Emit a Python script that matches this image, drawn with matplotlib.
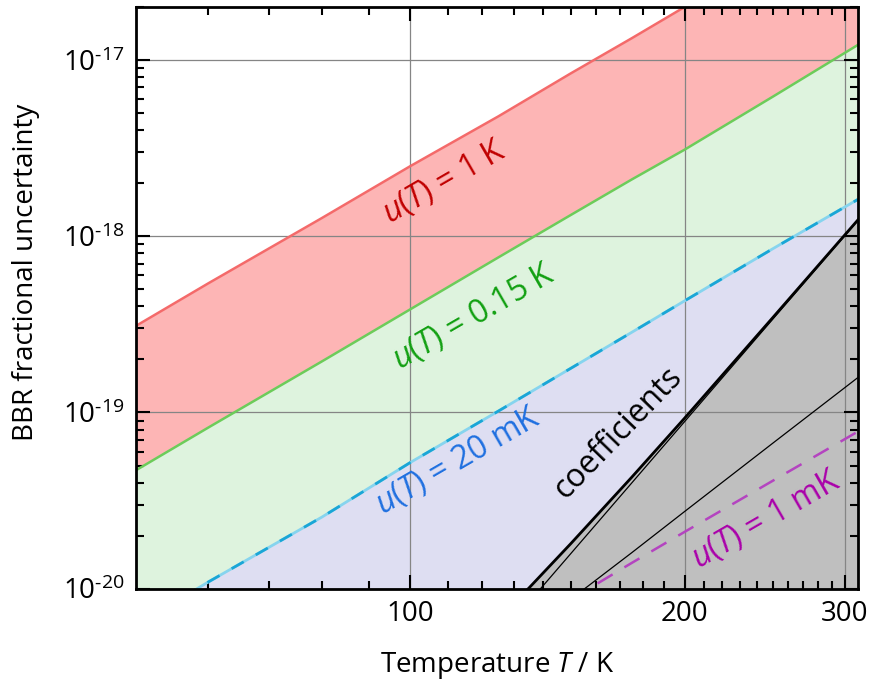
import matplotlib
matplotlib.use("Agg")
import matplotlib.pyplot as plt
from matplotlib.ticker import FixedLocator, NullFormatter, FuncFormatter
import math

FONT = "Open Sans"
plt.rcParams['font.family'] = [FONT, 'DejaVu Sans']
plt.rcParams['mathtext.fontset'] = 'custom'
plt.rcParams['mathtext.rm'] = FONT
plt.rcParams['mathtext.it'] = FONT + ':italic'

# ---- data ----
T_grid = [50, 60, 80, 100, 125, 150, 175, 200, 250, 310]
u_1K = [3.1e-19, 5.4e-19, 1.27e-18, 2.5e-18, 4.8e-18, 8.4e-18, 1.33e-17, 2.0e-17, 3.9e-17, 7.4e-17]
u_015K = [4.7e-20, 8.2e-20, 1.95e-19, 3.85e-19, 7.6e-19, 1.32e-18, 2.1e-18, 3.1e-18, 6.2e-18, 1.22e-17]
u_20mK = [6.2e-21, 1.09e-20, 2.55e-20, 5.2e-20, 1.02e-19, 1.78e-19, 2.85e-19, 4.3e-19, 8.5e-19, 1.62e-18]
T_1mK = [150, 160, 175, 200, 250, 310]
u_1mK = [8.7e-21, 1.06e-20, 1.4e-20, 2.1e-20, 4.1e-20, 7.8e-20]
T_coef = [125, 135, 150, 175, 200, 250, 310]
coef_static = [4.2e-21, 5.7e-21, 8.7e-21, 1.6e-20, 2.74e-20, 6.7e-20, 1.58e-19]
coef_dynamic = [5.3e-21, 8.4e-21, 1.58e-20, 3.98e-20, 8.87e-20, 3.39e-19, 1.23e-18]
coef_total = [6.8e-21, 1.01e-20, 1.80e-20, 4.29e-20, 9.28e-20, 3.46e-19, 1.24e-18]

x_major = [100, 200, 300]
x_minor = [60, 70, 80, 90, 110, 120, 130, 140, 150, 160, 170, 180, 190,
           210, 220, 230, 240, 250, 260, 270, 280, 290]
y_major = [1e-20, 1e-19, 1e-18, 1e-17]
y_minor = [m * 10.0 ** e for e in (-20, -19, -18, -17) for m in range(2, 10) if m * 10.0 ** e <= 2e-17]
XLIM = (50, 310)
YLIM = (1e-20, 2e-17)

fig = plt.figure(figsize=(8.7, 6.89), dpi=100)
ax = fig.add_axes([0.1563, 0.1456, 0.9862 - 0.1563, 0.9898 - 0.1456])
ax.set_xscale('log')
ax.set_yscale('log')
ax.set_xlim(*XLIM)
ax.set_ylim(*YLIM)

low = YLIM[0] / 10
ax.fill_between(T_grid, u_015K, u_1K, color='#fdb5b5', lw=0, zorder=0)
ax.fill_between(T_grid, u_20mK, u_015K, color='#def3de', lw=0, zorder=0)
ax.fill_between(T_grid, low, u_20mK, color='#dedef2', lw=0, zorder=0)
ax.fill_between(T_coef, low, coef_total, color='#bfbfbf', lw=0, zorder=2)

ax.grid(True, which='major', color='#858585', lw=0.9)
ax.set_axisbelow(False)
for gl in ax.get_xgridlines() + ax.get_ygridlines():
    gl.set_zorder(1)

ax.plot(T_grid, u_1K, color='#f46a6a', lw=1.8, zorder=3)
ax.plot(T_grid, u_015K, color='#6ccc5a', lw=1.8, zorder=3)
ax.plot(T_grid, u_20mK, color='#86d4ee', lw=2.0, zorder=3)
ax.plot(T_grid, u_20mK, color='#1aa6d6', lw=2.0, ls=(0, (5, 5)), zorder=3)
ax.plot(T_1mK, u_1mK, color='#b444c0', lw=1.8, ls=(0, (7, 5.5)), zorder=3)
ax.plot(T_coef, coef_static, color='black', lw=0.9, zorder=4)
ax.plot(T_coef, coef_dynamic, color='black', lw=0.9, zorder=4)
ax.plot(T_coef, coef_total, color='black', lw=2.0, zorder=4)

fs_in = 23
ax.text(109.1, 2.02e-18, r'$u$($T$) = 1 K', color='#c00000', fontsize=fs_in,
        rotation=30, ha='center', va='center', rotation_mode='anchor', zorder=5)
ax.text(117.4, 3.45e-19, r'$u$($T$) = 0.15 K', color='#12a012', fontsize=fs_in,
        rotation=30, ha='center', va='center', rotation_mode='anchor', zorder=5)
ax.text(112.8, 5.25e-20, r'$u$($T$) = 20 mK', color='#1f70e0', fontsize=fs_in,
        rotation=30, ha='center', va='center', rotation_mode='anchor', zorder=5)
ax.text(169, 7.67e-20, 'coefficients', color='black', fontsize=fs_in,
        rotation=46, ha='center', va='center', rotation_mode='anchor', zorder=5)
ax.text(245.9, 2.46e-20, r'$u$($T$) = 1 mK', color='#aa00aa', fontsize=fs_in,
        rotation=30, ha='center', va='center', rotation_mode='anchor', zorder=5)

fs = 20
ax.xaxis.set_major_locator(FixedLocator(x_major))
ax.xaxis.set_minor_locator(FixedLocator(x_minor))
ax.xaxis.set_major_formatter(FuncFormatter(lambda v, p: f"{int(v)}"))
ax.xaxis.set_minor_formatter(NullFormatter())
ax.yaxis.set_major_locator(FixedLocator(y_major))
ax.yaxis.set_minor_locator(FixedLocator(y_minor))
ax.yaxis.set_major_formatter(FuncFormatter(lambda v, p: '10$^{\u2010%d}$' % abs(round(math.log10(v)))))
ax.yaxis.set_minor_formatter(NullFormatter())

ax.tick_params(which='both', direction='in', top=True, right=True, width=1.5, labelsize=fs, pad=8)
ax.tick_params(which='major', length=10)
ax.tick_params(which='minor', length=6)
for s in ax.spines.values():
    s.set_linewidth(2)
    s.set_zorder(6)

ax.set_xlabel(r'Temperature $T$ / K', fontsize=fs)
ax.set_ylabel('BBR fractional uncertainty', fontsize=fs)
ax.xaxis.set_label_coords(0.501, -0.105)
ax.yaxis.set_label_coords(-0.133, 0.543)

fig.savefig('out.png', dpi=100)
